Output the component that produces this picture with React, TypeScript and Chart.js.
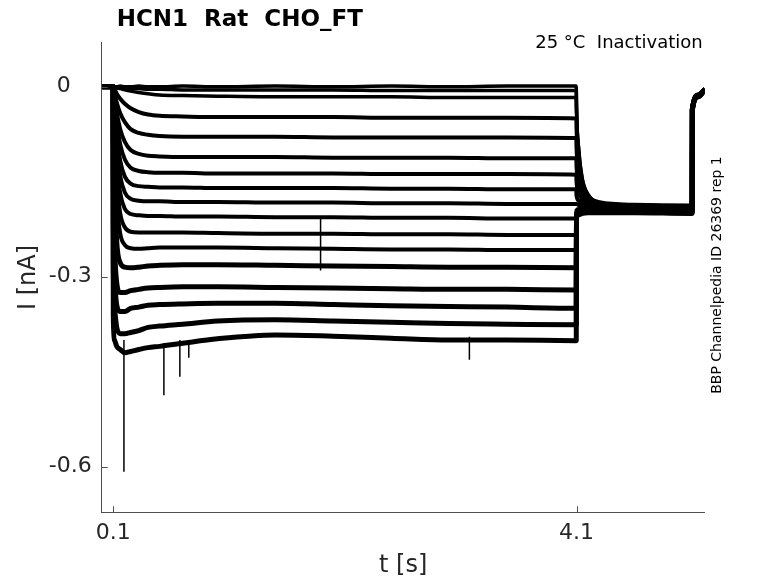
import { useEffect, useRef } from 'react';
import { Chart, registerables, type Plugin } from 'chart.js';

Chart.register(...registerables);

Chart.defaults.font.family = '"DejaVu Sans", sans-serif';
Chart.defaults.color = '#262626';

const TITLE = 'HCN1  Rat  CHO_FT';
const CONDITION = '25 °C  Inactivation';
const SOURCE = 'BBP Channelpedia ID 26369 rep 1';
const AXIS = '#4d4d4d';

// sample times [s] shared by every sweep
const tSec = [
  0.005, 0.098, 0.1, 0.11, 0.13, 0.16, 0.2, 0.25, 0.32, 0.4, 0.5, 0.7, 1.0, 1.5,
  2.0, 2.5, 3.0, 3.5, 4.098, 4.1, 4.12, 4.15, 4.2, 4.3, 4.6, 5.098, 5.1, 5.15, 5.207,
];

// current [nA], one array per sweep
const sweep01 = [0.001, 0.001, 0, 0, 0, 0.001, 0, 0, 0.001, 0, 0, 0.001, 0, 0.001, 0, 0.001, 0, 0.001, 0.001, -0.03, -0.1, -0.145, -0.17, -0.182, -0.186, -0.187, -0.03, -0.012, -0.003];
const sweep02 = [0, 0, 0, 0, -0.001, -0.001, -0.002, -0.003, -0.003, -0.004, -0.004, -0.005, -0.005, -0.005, -0.005, -0.006, -0.006, -0.006, -0.006, -0.032, -0.102, -0.147, -0.171, -0.183, -0.187, -0.188, -0.031, -0.012, -0.003];
const sweep03 = [0, 0, 0, -0.001, -0.002, -0.003, -0.005, -0.007, -0.009, -0.011, -0.013, -0.014, -0.015, -0.016, -0.016, -0.016, -0.017, -0.017, -0.017, -0.04, -0.108, -0.15, -0.173, -0.184, -0.187, -0.188, -0.031, -0.013, -0.004];
const sweep04 = [0, 0, -0.002, -0.004, -0.011, -0.019, -0.027, -0.034, -0.04, -0.044, -0.046, -0.047, -0.048, -0.048, -0.048, -0.049, -0.049, -0.049, -0.05, -0.065, -0.125, -0.158, -0.177, -0.185, -0.188, -0.189, -0.032, -0.013, -0.004];
const sweep05 = [0, 0, -0.004, -0.01, -0.025, -0.042, -0.056, -0.067, -0.073, -0.076, -0.078, -0.079, -0.079, -0.079, -0.08, -0.08, -0.08, -0.08, -0.081, -0.095, -0.14, -0.165, -0.18, -0.186, -0.189, -0.19, -0.032, -0.013, -0.004];
const sweep06 = [0, 0, -0.005, -0.016, -0.041, -0.067, -0.087, -0.1, -0.106, -0.109, -0.11, -0.111, -0.111, -0.111, -0.112, -0.112, -0.112, -0.113, -0.113, -0.125, -0.155, -0.172, -0.183, -0.187, -0.19, -0.19, -0.033, -0.013, -0.004];
const sweep07 = [0, 0, -0.008, -0.023, -0.057, -0.091, -0.115, -0.128, -0.133, -0.135, -0.136, -0.136, -0.137, -0.137, -0.137, -0.138, -0.138, -0.138, -0.139, -0.15, -0.168, -0.178, -0.185, -0.188, -0.19, -0.191, -0.033, -0.014, -0.004];
const sweep08 = [0, 0, -0.01, -0.032, -0.078, -0.117, -0.142, -0.153, -0.157, -0.158, -0.159, -0.159, -0.16, -0.16, -0.16, -0.161, -0.161, -0.162, -0.162, -0.172, -0.18, -0.185, -0.188, -0.19, -0.191, -0.191, -0.033, -0.014, -0.004];
const sweep09 = [0, 0, -0.014, -0.04, -0.096, -0.141, -0.167, -0.177, -0.18, -0.181, -0.181, -0.182, -0.182, -0.183, -0.183, -0.184, -0.184, -0.185, -0.185, -0.185, -0.187, -0.188, -0.189, -0.19, -0.191, -0.192, -0.034, -0.014, -0.004];
const sweep10 = [0, 0, -0.02, -0.051, -0.119, -0.168, -0.193, -0.201, -0.203, -0.204, -0.204, -0.205, -0.205, -0.206, -0.206, -0.207, -0.207, -0.208, -0.208, -0.195, -0.193, -0.192, -0.192, -0.192, -0.192, -0.193, -0.034, -0.014, -0.004];
const sweep11 = [0, 0, -0.03, -0.066, -0.147, -0.2, -0.222, -0.229, -0.23, -0.23, -0.23, -0.23, -0.231, -0.232, -0.232, -0.233, -0.233, -0.234, -0.234, -0.198, -0.195, -0.194, -0.193, -0.193, -0.193, -0.194, -0.034, -0.014, -0.005];
const sweep12 = [0, 0, -0.04, -0.09, -0.18, -0.232, -0.25, -0.255, -0.256, -0.255, -0.254, -0.254, -0.254, -0.255, -0.256, -0.257, -0.257, -0.258, -0.258, -0.2, -0.197, -0.195, -0.194, -0.194, -0.194, -0.195, -0.035, -0.015, -0.005];
const sweep13 = [0, 0, -0.07, -0.15, -0.245, -0.278, -0.285, -0.286, -0.285, -0.283, -0.282, -0.281, -0.281, -0.282, -0.283, -0.284, -0.285, -0.285, -0.286, -0.202, -0.198, -0.196, -0.195, -0.195, -0.195, -0.196, -0.035, -0.015, -0.005];
const sweep14 = [0, 0, -0.12, -0.24, -0.31, -0.325, -0.325, -0.322, -0.32, -0.318, -0.317, -0.316, -0.316, -0.317, -0.318, -0.319, -0.32, -0.32, -0.321, -0.204, -0.199, -0.197, -0.196, -0.196, -0.196, -0.197, -0.036, -0.015, -0.005];
const sweep15 = [0, 0, -0.2, -0.3, -0.345, -0.355, -0.355, -0.35, -0.348, -0.345, -0.344, -0.343, -0.342, -0.342, -0.344, -0.346, -0.347, -0.348, -0.35, -0.205, -0.2, -0.198, -0.197, -0.197, -0.197, -0.198, -0.036, -0.015, -0.005];
const sweep16 = [0, 0, -0.28, -0.35, -0.38, -0.39, -0.39, -0.388, -0.385, -0.38, -0.378, -0.375, -0.37, -0.368, -0.37, -0.372, -0.374, -0.375, -0.376, -0.206, -0.201, -0.199, -0.198, -0.198, -0.198, -0.199, -0.037, -0.016, -0.005];
const sweep17 = [0, 0, -0.36, -0.4, -0.41, -0.415, -0.42, -0.418, -0.415, -0.412, -0.41, -0.405, -0.398, -0.392, -0.394, -0.397, -0.4, -0.4, -0.401, -0.207, -0.202, -0.2, -0.199, -0.199, -0.199, -0.2, -0.037, -0.016, -0.005];

const sweeps = [
  sweep01, sweep02, sweep03, sweep04, sweep05, sweep06, sweep07, sweep08, sweep09,
  sweep10, sweep11, sweep12, sweep13, sweep14, sweep15, sweep16, sweep17,
];

// single-sample spikes that stick out of the noisy sweeps
const spikeT = [0.192, 0.537, 0.675, 0.752, 1.89, 3.175];
const spikeFrom = [-0.4, -0.405, -0.4, -0.4, -0.207, -0.395];
const spikeTo = [-0.608, -0.487, -0.458, -0.428, -0.29, -0.431];

const xTicks = [0.1, 4.1];
const yTicks = [-0.6, -0.3, 0];

// MATLAB-style inward ticks plus the free texts around the axes
const decorations: Plugin<'line'> = {
  id: 'decorations',
  afterDraw(chart) {
    const { ctx, chartArea, scales } = chart;
    ctx.save();
    ctx.strokeStyle = AXIS;
    ctx.lineWidth = 1;
    ctx.beginPath();
    for (const t of scales.x.ticks) {
      const px = Math.round(scales.x.getPixelForValue(t.value)) + 0.5;
      ctx.moveTo(px, chartArea.bottom);
      ctx.lineTo(px, chartArea.bottom - 6);
    }
    for (const t of scales.y.ticks) {
      const py = Math.round(scales.y.getPixelForValue(t.value)) + 0.5;
      ctx.moveTo(chartArea.left, py);
      ctx.lineTo(chartArea.left + 6, py);
    }
    ctx.stroke();

    ctx.fillStyle = '#000';
    ctx.textBaseline = 'alphabetic';
    ctx.font = 'bold 23px "DejaVu Sans"';
    ctx.textAlign = 'left';
    ctx.fillText(TITLE, chartArea.left + 15, 26);

    ctx.font = '18px "DejaVu Sans"';
    ctx.textAlign = 'right';
    ctx.fillText(CONDITION, chartArea.right - 2, 48);

    ctx.translate(721, 275);
    ctx.rotate(-Math.PI / 2);
    ctx.font = '14px "DejaVu Sans"';
    ctx.textAlign = 'center';
    ctx.fillText(SOURCE, 0, 0);
    ctx.restore();
  },
};

export default function App() {
  const ref = useRef<HTMLCanvasElement>(null);

  useEffect(() => {
    if (!ref.current) return;
    document.body.style.margin = '0';

    const traceSets = sweeps.map((vals, i) => ({
      data: tSec.map((t, k) => ({ x: t, y: vals[k] })),
      borderColor: '#000',
      borderWidth: i < 3 ? 3.5 : i < 12 ? 4 : 5,
      pointRadius: 0,
      cubicInterpolationMode: 'monotone' as const,
      borderJoinStyle: 'round' as const,
    }));

    const spikeSet = {
      data: spikeT.flatMap((t, i) => [
        { x: t, y: spikeFrom[i] },
        { x: t, y: spikeTo[i] },
        { x: t, y: null },
      ]),
      borderColor: '#000',
      borderWidth: 1.5,
      pointRadius: 0,
      spanGaps: false,
    };

    const chart = new Chart(ref.current, {
      type: 'line',
      data: { datasets: [...traceSets, spikeSet] as any },
      options: {
        animation: false,
        responsive: false,
        events: [],
        layout: { padding: { top: 42.7, right: 73.3, left: 0, bottom: 0 } },
        plugins: { legend: { display: false }, tooltip: { enabled: false } },
        scales: {
          x: {
            type: 'linear',
            min: 0,
            max: 5.207,
            afterFit: (s) => { s.height = 70.7; },
            afterBuildTicks: (s) => { s.ticks = xTicks.map((v) => ({ value: v })); },
            grid: { display: false, drawTicks: false },
            border: { display: true, color: AXIS, width: 1 },
            ticks: {
              padding: 8,
              maxRotation: 0,
              font: { size: 22 },
              color: '#262626',
              callback: (v) => String(v),
            },
            title: {
              display: true,
              text: 't [s]',
              font: { size: 24 },
              color: '#262626',
              padding: { top: 0, bottom: 3 },
            },
          },
          y: {
            type: 'linear',
            min: -0.672,
            max: 0.0695,
            afterFit: (s) => { s.width = 101.7; },
            afterBuildTicks: (s) => { s.ticks = yTicks.map((v) => ({ value: v })); },
            grid: { display: false, drawTicks: false },
            border: { display: true, color: AXIS, width: 1 },
            ticks: {
              padding: 10,
              font: { size: 22 },
              color: '#262626',
              // the reference sets the zero label further left than the others
              callback: (v) => (Number(v) === 0 ? '0   ' : String(v)),
            },
            title: {
              display: true,
              text: 'I [nA]',
              font: { size: 24 },
              color: '#262626',
              padding: { top: 14, bottom: 0 },
            },
          },
        },
      },
      plugins: [decorations],
    });

    return () => chart.destroy();
  }, []);

  return (
    <div style={{ width: 778, height: 583 }}>
      <canvas ref={ref} width={778} height={583} />
    </div>
  );
}
